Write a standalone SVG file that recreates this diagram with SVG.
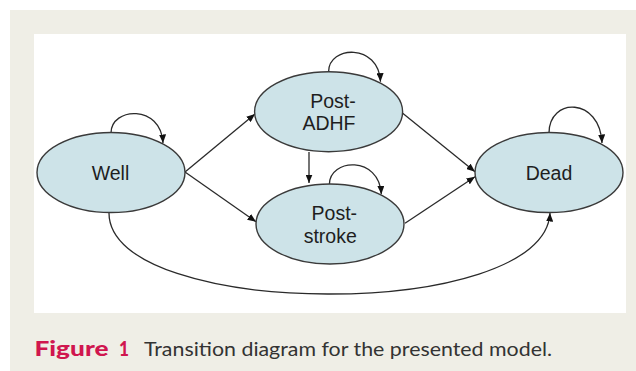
<svg xmlns="http://www.w3.org/2000/svg" width="636" height="371" viewBox="0 0 636 371">
<style>
.node ellipse{fill:#cde3e8;stroke:#3a3a3a;stroke-width:1.4}
.node text{font-family:"Liberation Sans",Arial,sans-serif;font-size:19.5px;fill:#1e1e1e;text-anchor:middle}
.edge{fill:none;stroke:#2a2a2a;stroke-width:1.3;marker-end:url(#ah)}
.cap{font-family:Lato,"Open Sans",sans-serif;font-size:18.5px}
.fig{font-size:21px;font-weight:900;fill:#d0164f}
</style>
<defs>
<marker id="ah" markerUnits="userSpaceOnUse" markerWidth="9" markerHeight="7" refX="8.5" refY="3.5" orient="auto">
<path d="M0,0 L8.5,3.5 L0,7 z" fill="#111"/>
</marker>
</defs>
<rect x="0" y="0" width="636" height="371" fill="#ffffff"/>
<rect x="10" y="10" width="626" height="361" fill="#efeee6"/>
<rect x="34" y="34" width="592" height="279" fill="#ffffff"/>
<g id="connectors">
<path class="edge" d="M111,133 C 111,107 161,104 163,143"/>
<path class="edge" d="M328.6,71.7 C 328.6,45.7 378.6,42.7 380.5,81.7"/>
<path class="edge" d="M329.4,184.3 C 329.4,158.3 379.4,155.3 381.3,194.3"/>
<path class="edge" d="M549,133 C 549,97 600,97 602,143"/>
<path class="edge" d="M185,172 L255,114"/>
<path class="edge" d="M185,172 L256,221.7"/>
<path class="edge" d="M309,152 L309,183"/>
<path class="edge" d="M402.7,113.3 L475,171.7"/>
<path class="edge" d="M405,223.3 L475,176.7"/>
<path class="edge" d="M109,213 C 109,320 545,322 550,213"/>
</g>
<g id="well" class="node"><ellipse cx="111" cy="172.5" rx="74" ry="40"/><text x="110.5" y="179.5">Well</text></g>
<g id="post-adhf" class="node"><ellipse cx="328.6" cy="111.7" rx="74" ry="40"/><text x="333" y="107.5">Post-</text><text x="329" y="130.3">ADHF</text></g>
<g id="post-stroke" class="node"><ellipse cx="330" cy="224" rx="74" ry="40"/><text x="334.3" y="220">Post-</text><text x="330.2" y="243">stroke</text></g>
<g id="dead" class="node"><ellipse cx="549" cy="172.5" rx="74" ry="40"/><text x="549" y="179.5">Dead</text></g>
<text class="cap fig" x="34.5" y="356"><tspan textLength="74" lengthAdjust="spacingAndGlyphs">Figure</tspan><tspan x="119" textLength="10" lengthAdjust="spacingAndGlyphs">1</tspan></text>
<text class="cap" x="144" y="356" fill="#333333" textLength="408" lengthAdjust="spacingAndGlyphs">Transition diagram for the presented model.</text>
</svg>
